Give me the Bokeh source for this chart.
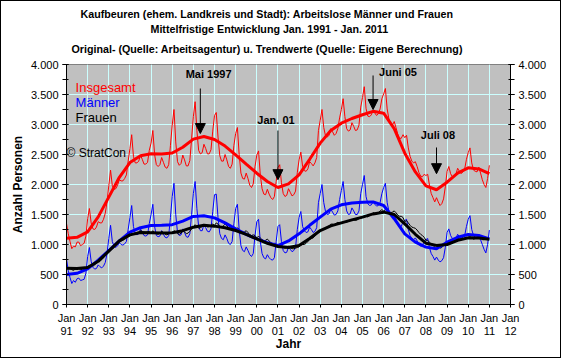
from bokeh.plotting import figure
from bokeh.models import LinearAxis, FixedTicker, Label, Arrow, NormalHead, Range1d, Title
from bokeh.embed import file_html
from bokeh.resources import INLINE

# ---------------- data ----------------
# monthly values Jan 1991 ... Jan 2011
maenner = [
    760, 560, 450, 350, 400, 370, 430, 440, 400, 410, 420, 520,          # 1991
    800, 950, 720, 620, 590, 600, 660, 630, 610, 640, 700, 850,          # 1992
    1100, 1320, 1050, 970, 950, 980, 1030, 1000, 990, 1010, 1050, 1250,  # 1993
    1450, 1650, 1300, 1180, 1160, 1180, 1260, 1200, 1150, 1140, 1160, 1350,  # 1994
    1500, 1670, 1300, 1150, 1130, 1140, 1230, 1170, 1120, 1110, 1150, 1450,  # 1995
    1800, 2020, 1500, 1200, 1150, 1160, 1260, 1200, 1130, 1120, 1180, 1500,  # 1996
    1850, 2050, 1600, 1300, 1230, 1230, 1330, 1280, 1220, 1210, 1260, 1550,  # 1997
    1830, 1840, 1450, 1180, 1100, 1080, 1160, 1100, 1020, 1000, 1050, 1350,  # 1998
    1600, 1670, 1250, 980, 900, 880, 960, 900, 830, 800, 850, 1150,          # 1999
    1380, 1420, 1050, 850, 780, 760, 830, 780, 750, 740, 780, 1050,          # 2000
    1300, 1330, 1050, 900, 860, 870, 960, 920, 880, 900, 950, 1250,          # 2001
    1450, 1550, 1300, 1230, 1200, 1210, 1290, 1250, 1200, 1220, 1280, 1700,  # 2002
    1850, 2000, 1700, 1550, 1500, 1510, 1590, 1540, 1490, 1500, 1560, 1750,  # 2003
    1900, 2050, 1750, 1560, 1500, 1510, 1610, 1560, 1500, 1500, 1560, 1850,  # 2004
    2000, 2150, 1800, 1680, 1650, 1660, 1710, 1670, 1640, 1650, 1700, 1850,  # 2005
    1950, 2020, 1700, 1550, 1480, 1450, 1490, 1420, 1350, 1300, 1300, 1380,  # 2006
    1400, 1420, 1250, 1150, 1100, 1080, 1110, 1060, 1000, 970, 980, 1050,    # 2007
    1080, 1100, 950, 850, 800, 740, 790, 740, 710, 730, 780, 950,            # 2008
    1200, 1260, 1150, 1100, 1080, 1100, 1170, 1130, 1100, 1120, 1150, 1300,  # 2009
    1420, 1480, 1250, 1150, 1120, 1100, 1160, 1080, 1000, 920, 860, 1000,    # 2010
    1240,                                                                    # 2011
]

frauen = [
    590, 620, 600, 580, 570, 590, 610, 600, 580, 590, 600, 620,              # 1991
    630, 650, 640, 640, 660, 690, 720, 730, 750, 780, 820, 860,              # 1992
    880, 920, 930, 950, 980, 1010, 1050, 1060, 1070, 1090, 1110, 1140,       # 1993
    1150, 1180, 1170, 1180, 1200, 1210, 1230, 1220, 1190, 1200, 1210, 1220,  # 1994
    1190, 1230, 1200, 1180, 1170, 1190, 1220, 1200, 1170, 1160, 1180, 1200,  # 1995
    1190, 1230, 1210, 1180, 1170, 1190, 1230, 1210, 1180, 1190, 1220, 1260,  # 1996
    1280, 1330, 1300, 1270, 1280, 1300, 1340, 1320, 1290, 1300, 1320, 1340,  # 1997
    1320, 1360, 1340, 1300, 1290, 1310, 1340, 1310, 1280, 1270, 1290, 1300,  # 1998
    1250, 1280, 1250, 1210, 1200, 1210, 1230, 1200, 1160, 1150, 1160, 1150,  # 1999
    1110, 1140, 1110, 1080, 1060, 1070, 1090, 1060, 1030, 1010, 1020, 1000,  # 2000
    980, 1000, 980, 950, 940, 950, 970, 950, 930, 930, 940, 950,             # 2001
    960, 990, 1000, 1000, 1020, 1050, 1090, 1100, 1110, 1140, 1170, 1200,    # 2002
    1220, 1250, 1250, 1260, 1290, 1310, 1340, 1340, 1330, 1350, 1370, 1360,  # 2003
    1350, 1380, 1380, 1370, 1390, 1400, 1420, 1410, 1400, 1410, 1430, 1440,  # 2004
    1450, 1480, 1470, 1460, 1480, 1500, 1530, 1520, 1510, 1530, 1560, 1580,  # 2005
    1560, 1580, 1560, 1540, 1530, 1540, 1560, 1530, 1490, 1470, 1470, 1450,  # 2006
    1380, 1400, 1360, 1320, 1290, 1280, 1270, 1240, 1200, 1170, 1150, 1120,  # 2007
    1070, 1070, 1040, 1000, 980, 970, 990, 970, 940, 950, 980, 1010,         # 2008
    1020, 1040, 1030, 1030, 1050, 1070, 1100, 1090, 1080, 1090, 1110, 1120,  # 2009
    1110, 1130, 1110, 1090, 1100, 1110, 1130, 1110, 1080, 1080, 1090, 1100,  # 2010
    1080,                                                                    # 2011
]

# trend values, every half year (Jan, Jul) 1991 ... Jan 2011
trend_maenner = [
    500, 520, 594, 740, 900, 1060, 1206, 1280, 1317, 1320,
    1330, 1390, 1467, 1480, 1444, 1360, 1261, 1170, 1094, 1030,
    983, 1060, 1178, 1320, 1456, 1590, 1661, 1690, 1706, 1710,
    1650, 1430, 1178, 1040, 956, 928, 1039, 1120, 1167, 1150,
    1094,
]
trend_frauen = [
    606, 600, 617, 720, 890, 1060, 1160, 1200, 1195, 1190,
    1195, 1230, 1289, 1320, 1306, 1280, 1233, 1170, 1094, 1020,
    967, 950, 983, 1100, 1233, 1310, 1361, 1410, 1456, 1510,
    1539, 1500, 1344, 1170, 1022, 985, 1000, 1070, 1111, 1110,
    1089,
]

year_ticks = list(range(1991, 2013))
y_ticks = [0, 500, 1000, 1500, 2000, 2500, 3000, 3500, 4000]
y_tick_labels = ["0", "500", "1.000", "1.500", "2.000", "2.500", "3.000", "3.500", "4.000"]

titles = [
    "Kaufbeuren (ehem. Landkreis und Stadt): Arbeitslose Männer und Frauen",
    "Mittelfristige Entwicklung Jan. 1991 - Jan. 2011",
    "Original- (Quelle: Arbeitsagentur) u. Trendwerte (Quelle: Eigene Berechnung)",
]
# annotations: label, date of arrow, arrow tip value
ann_labels = ["Mai 1997", "Jan. 01", "Juni 05", "Juli 08"]
ann_dates = [1997.33, 2001.0, 2005.5, 2008.5]
ann_values = [2850, 2080, 3250, 2180]

# ---------------- derived ----------------
month_x = [1991 + i / 12 for i in range(len(maenner))]
trend_x = [1991 + i / 2 for i in range(len(trend_maenner))]
insgesamt = [m + f for m, f in zip(maenner, frauen)]
trend_insgesamt = [m + f for m, f in zip(trend_maenner, trend_frauen)]

FONT = "Liberation Sans"

p = figure(frame_width=444, frame_height=240, output_backend="svg", toolbar_location=None,
           title=None, x_range=Range1d(1991, 2012), y_range=Range1d(0, 4000),
           min_border_left=65, min_border_right=50, min_border_top=63, min_border_bottom=53,
           background_fill_color="#C0C0C0", border_fill_color="white",
           outline_line_color="#808080")
p.styles = {"border": "1px solid black"}

# titles (first added = closest to the frame)
for txt, off, so, va in [(titles[2], 5, 16, "top"), (titles[1], 84, 0, "bottom"),
                         (titles[0], 14, 1, "bottom")]:
    p.add_layout(Title(text=txt, align="left", offset=off, standoff=so, vertical_align=va,
                       text_font=FONT, text_font_size="10.7px", text_font_style="bold",
                       text_color="black"), "above")

# grid
p.xgrid.ticker = FixedTicker(ticks=year_ticks)
p.ygrid.ticker = FixedTicker(ticks=y_ticks)
for g in (p.xgrid, p.ygrid):
    g.grid_line_color = "#CCFFFF"
    g.grid_line_width = 1

# x axis
xa = p.xaxis[0]
xa.ticker = FixedTicker(ticks=year_ticks)
xa.major_label_overrides = {y: "Jan\n%02d" % (y % 100) for y in year_ticks}
xa.major_tick_in = 0
xa.major_tick_out = 3
xa.minor_tick_line_color = None
xa.major_label_standoff = 4
xa.major_label_text_font = FONT
xa.major_label_text_font_size = "11px"
xa.major_label_text_line_height = 1.1
xa.major_label_text_color = "black"
xa.axis_line_color = "black"
xa.major_tick_line_color = "black"
xa.axis_label = "Jahr"
xa.axis_label_text_font = FONT
xa.axis_label_text_font_size = "12px"
xa.axis_label_text_font_style = "bold"
xa.axis_label_text_color = "black"
xa.axis_label_standoff = -3

# y axes
ya = p.yaxis[0]
ra = LinearAxis()
p.add_layout(ra, "right")
for ax in (ya, ra):
    ax.ticker = FixedTicker(ticks=y_ticks, minor_ticks=list(range(0, 4001, 250)))
    ax.major_label_overrides = dict(zip(y_ticks, y_tick_labels))
    ax.major_tick_in = 2
    ax.major_tick_out = 4
    ax.minor_tick_in = 2
    ax.minor_tick_out = 4
    ax.minor_tick_line_color = "black"
    ax.major_tick_line_color = "black"
    ax.axis_line_color = "black"
    ax.major_label_standoff = 4
    ax.major_label_text_font = FONT
    ax.major_label_text_font_size = "11px"
    ax.major_label_text_color = "black"
ya.axis_label = "Anzahl Personen"
ya.axis_label_text_font = FONT
ya.axis_label_text_font_size = "12px"
ya.axis_label_text_font_style = "bold"
ya.axis_label_text_color = "black"
ya.axis_label_standoff = 3

# series
p.line(month_x, insgesamt, line_color="#FF0000", line_width=1)
p.line(month_x, maenner, line_color="#0000FF", line_width=1)
p.line(month_x, frauen, line_color="black", line_width=1)
p.line(trend_x, trend_insgesamt, line_color="#FF0000", line_width=3)
p.line(trend_x, trend_maenner, line_color="#0000FF", line_width=3)
p.line(trend_x, trend_frauen, line_color="black", line_width=3)

# legend texts
for txt, col, yv in zip(["Insgesamt", "Männer", "Frauen"], ["#FF0000", "#0000FF", "black"],
                        [3617, 3367, 3117]):
    p.add_layout(Label(x=1991.43, y=yv, text=txt, text_align="left", text_baseline="middle",
                       text_font=FONT, text_font_size="13px", text_color=col))
p.add_layout(Label(x=1991.0, y=2517, text="© StratCon", text_align="left", text_baseline="middle",
                   text_font=FONT, text_font_size="12px", text_color="black"))

# arrows and annotation labels
arrow_start = [3600, 2900, 3817, 2617]
label_pos = [(1997.72, 3850), (2000.91, 3083), (2006.68, 3867), (2008.57, 2817)]
for txt, xd, yv, ys, (lx, ly) in zip(ann_labels, ann_dates, ann_values, arrow_start, label_pos):
    p.add_layout(Arrow(end=NormalHead(size=10, fill_color="black", line_color="black"),
                       x_start=xd, y_start=ys, x_end=xd, y_end=yv,
                       line_color="black", line_width=1))
    p.add_layout(Label(x=lx, y=ly, text=txt, text_align="center", text_baseline="middle",
                       text_font=FONT, text_font_size="11px", text_font_style="bold",
                       text_color="black"))

open("out.html", "w").write(file_html(p, INLINE))
